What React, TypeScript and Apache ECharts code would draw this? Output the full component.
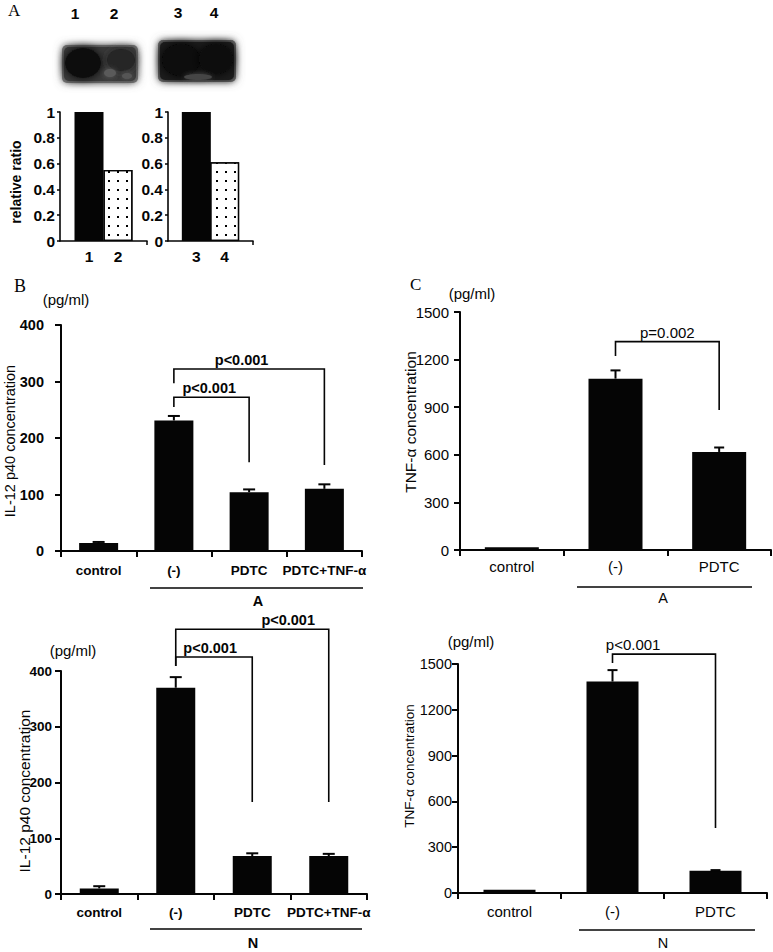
import React, { useEffect, useRef } from 'react';
import * as echarts from 'echarts';

// ---------- data ----------
const laneLabels = ['1', '2', '3', '4'];
const ratioCats1 = ['1', '2'];
const ratioVals1 = [1, 0.55];
const ratioCats2 = ['3', '4'];
const ratioVals2 = [1, 0.61];

const catsB = ['control', '(-)', 'PDTC', 'PDTC+TNF-α'];
const il12A = [14, 231, 104, 110];
const il12AErr = [2, 8, 5, 8];
const il12N = [10, 370, 68, 68];
const il12NErr = [4, 19, 5, 4];

const catsC = ['control', '(-)', 'PDTC'];
const tnfA = [18, 1080, 618];
const tnfAErr = [0, 52, 28];
const tnfN = [22, 1385, 145];
const tnfNErr = [0, 75, 5];

// brackets: [fromCat, toCat, lineValue, leftEndValue, rightEndValue, labelPosInCats]
const bracketsBA = [[1, 2, 272, 255, 157, 1.47], [1, 3, 322, 297, 152, 1.9]];
const bracketLabelsBA = ['p<0.001', 'p<0.001'];
const bracketsBN = [[1, 2, 425, 409, 165, 1.45], [1, 3, 475, 409, 165, 2.47]];
const bracketLabelsBN = ['p<0.001', 'p<0.001'];
const bracketsCA = [[1, 2, 1313, 1223, 882, 1.5]];
const bracketLabelsCA = ['p=0.002'];
const bracketsCN = [[1, 2, 1565, 1507, 426, 1.2]];
const bracketLabelsCN = ['p<0.001'];

const SANS = '"Liberation Sans", Arial, Helvetica, sans-serif';
const SERIF = '"Liberation Serif", "Times New Roman", serif';
const INK = '#050505';

function errSeries(idx: number, vals: number[], errs: number[], cap: number) {
  return {
    type: 'custom',
    xAxisIndex: idx,
    yAxisIndex: idx,
    silent: true,
    z: 3,
    encode: { x: 0, y: 1 },
    data: vals.map((v, i) => [i, v, errs[i]]),
    renderItem: (params: any, api: any) => {
      const i = api.value(0);
      const v = api.value(1);
      const e = api.value(2);
      if (!e) return { type: 'group', children: [] };
      const p0 = api.coord([i, v]);
      const p1 = api.coord([i, v + e]);
      return {
        type: 'group',
        children: [
          { type: 'line', shape: { x1: p0[0], y1: p0[1], x2: p1[0], y2: p1[1] }, style: { stroke: INK, lineWidth: 2 } },
          { type: 'line', shape: { x1: p1[0] - cap / 2, y1: p1[1], x2: p1[0] + cap / 2, y2: p1[1] }, style: { stroke: INK, lineWidth: 2 } },
        ],
      };
    },
  };
}

function bracketSeries(idx: number, rows: number[][], labels: string[], bold: boolean, size: number) {
  return {
    type: 'custom',
    xAxisIndex: idx,
    yAxisIndex: idx,
    silent: true,
    clip: false,
    z: 4,
    encode: { x: 0, y: 2 },
    data: rows,
    renderItem: (params: any, api: any) => {
      const a = api.value(0);
      const b = api.value(1);
      const yl = api.value(2);
      const y1 = api.value(3);
      const y2 = api.value(4);
      const lx = api.value(5);
      const pA = api.coord([a, yl]);
      const pB = api.coord([b, yl]);
      const pA1 = api.coord([a, y1]);
      const pB1 = api.coord([b, y2]);
      const bw = api.size([1, 0])[0];
      const fl = Math.floor(lx);
      const tx = api.coord([fl, yl])[0] + (lx - fl) * bw;
      return {
        type: 'group',
        children: [
          {
            type: 'polyline',
            shape: { points: [[pA1[0], pA1[1]], [pA[0], pA[1]], [pB[0], pB[1]], [pB1[0], pB1[1]]] },
            style: { stroke: INK, lineWidth: 1.6, fill: null },
          },
          {
            type: 'text',
            x: tx,
            y: pA[1] - 2,
            style: {
              text: labels[params.dataIndex],
              fill: INK,
              fontFamily: SANS,
              fontSize: size,
              fontWeight: bold ? 'bold' : 'normal',
              align: 'center',
              verticalAlign: 'bottom',
            },
          },
        ],
      };
    },
  };
}

function txt(x: number, y: number, text: string, size: number, opts: any = {}) {
  return {
    type: 'text',
    x,
    y,
    rotation: opts.rotation || 0,
    silent: true,
    style: {
      text,
      fill: INK,
      fontFamily: opts.family || SANS,
      fontSize: size,
      fontWeight: opts.bold ? 'bold' : 'normal',
      align: opts.align || 'center',
      verticalAlign: 'middle',
    },
  };
}

function hline(x1: number, x2: number, y: number) {
  return { type: 'line', silent: true, shape: { x1, y1: y, x2, y2: y }, style: { stroke: INK, lineWidth: 1.5 } };
}

const axisLineStyle = (w: number) => ({ show: true, lineStyle: { color: INK, width: w } });

function ratioX(idx: number, cats: string[]) {
  return {
    type: 'value',
    gridIndex: idx,
    min: 0,
    max: 3,
    interval: 1,
    axisLine: axisLineStyle(1.6),
    axisTick: { show: true, customValues: [3], length: 4, lineStyle: { color: INK, width: 1.5 } },
    axisLabel: {
      customValues: [1, 2],
      formatter: (v: number) => cats[v - 1] || '',
      color: INK,
      fontFamily: SANS,
      fontWeight: 'bold',
      fontSize: 15.5,
      margin: 7,
    },
    splitLine: { show: false },
  };
}

function ratioY(idx: number) {
  return {
    type: 'value',
    gridIndex: idx,
    min: 0,
    max: 1,
    interval: 0.2,
    axisLine: axisLineStyle(1.6),
    axisTick: { show: true, length: 3, lineStyle: { color: INK, width: 1.5 } },
    axisLabel: {
      formatter: (v: number) => (v === 0 ? '0' : v === 1 ? '1' : v.toFixed(1)),
      color: INK,
      fontFamily: SANS,
      fontWeight: 'bold',
      fontSize: 15.5,
      margin: 5,
    },
    splitLine: { show: false },
  };
}

const dotted = {
  color: '#fff',
  borderColor: INK,
  borderWidth: 1.3,
  decal: {
    symbol: 'rect',
    symbolSize: 1,
    color: '#000',
    backgroundColor: '#fff',
    dashArrayX: [2, 6.4],
    dashArrayY: [2, 6.4],
  },
};

function ratioBars(idx: number, vals: number[]) {
  return {
    type: 'bar',
    xAxisIndex: idx,
    yAxisIndex: idx,
    barWidth: 29,
    silent: true,
    data: vals.map((v, i) => ({
      value: [i + 1, v],
      itemStyle: i === 0 ? { color: INK } : dotted,
    })),
  };
}

function catX(idx: number, cats: string[], bold: boolean, size: number, margin: number) {
  return {
    type: 'category',
    gridIndex: idx,
    data: cats,
    axisLine: axisLineStyle(2),
    axisTick: { show: true, length: 6, lineStyle: { color: INK, width: 2 } },
    axisLabel: {
      color: INK,
      fontFamily: SANS,
      fontWeight: bold ? 'bold' : 'normal',
      fontSize: size,
      margin,
      interval: 0,
    },
  };
}

function valY(idx: number, max: number, interval: number, bold: boolean, size: number, margin: number) {
  return {
    type: 'value',
    gridIndex: idx,
    min: 0,
    max,
    interval,
    axisLine: axisLineStyle(2),
    axisTick: { show: true, length: 6, lineStyle: { color: INK, width: 2 } },
    axisLabel: {
      formatter: (v: number) => String(v),
      color: INK,
      fontFamily: SANS,
      fontWeight: bold ? 'bold' : 'normal',
      fontSize: size,
      margin,
    },
    splitLine: { show: false },
  };
}

function bars(idx: number, vals: number[], width: number) {
  return {
    type: 'bar',
    xAxisIndex: idx,
    yAxisIndex: idx,
    barWidth: width,
    silent: true,
    itemStyle: { color: INK },
    data: vals,
  };
}

const blots = {
  type: 'group',
  silent: true,
  children: [
    // left blot (lanes 1, 2)
    { type: 'rect', shape: { x: 62, y: 45, width: 76, height: 38, r: 5 }, style: { fill: '#777', shadowBlur: 8, shadowColor: 'rgba(110,110,110,0.9)' } },
    { type: 'rect', shape: { x: 64, y: 47, width: 72, height: 34, r: 5 }, style: { fill: '#3a3a3a', shadowBlur: 6, shadowColor: '#3a3a3a' } },
    { type: 'ellipse', shape: { cx: 83, cy: 63, rx: 18, ry: 15 }, style: { fill: '#111', shadowBlur: 10, shadowColor: '#111' } },
    { type: 'ellipse', shape: { cx: 121, cy: 60, rx: 14, ry: 11 }, style: { fill: '#252525', shadowBlur: 8, shadowColor: '#252525' } },
    { type: 'ellipse', shape: { cx: 110, cy: 73, rx: 6, ry: 4 }, style: { fill: '#5a5a5a', shadowBlur: 5, shadowColor: '#5a5a5a' } },
    { type: 'ellipse', shape: { cx: 127, cy: 76, rx: 5, ry: 3 }, style: { fill: '#555', shadowBlur: 4, shadowColor: '#555' } },
    // right blot (lanes 3, 4)
    { type: 'rect', shape: { x: 158, y: 40, width: 78, height: 42, r: 5 }, style: { fill: '#666', shadowBlur: 8, shadowColor: 'rgba(100,100,100,0.9)' } },
    { type: 'rect', shape: { x: 160, y: 42, width: 74, height: 38, r: 5 }, style: { fill: '#1c1c1c', shadowBlur: 6, shadowColor: '#1c1c1c' } },
    { type: 'ellipse', shape: { cx: 181, cy: 60, rx: 19, ry: 16 }, style: { fill: '#0a0a0a', shadowBlur: 10, shadowColor: '#0a0a0a' } },
    { type: 'ellipse', shape: { cx: 216, cy: 59, rx: 17, ry: 15 }, style: { fill: '#0d0d0d', shadowBlur: 10, shadowColor: '#0d0d0d' } },
    { type: 'ellipse', shape: { cx: 198, cy: 77, rx: 14, ry: 3 }, style: { fill: '#444', shadowBlur: 5, shadowColor: '#444' } },
  ],
};

const graphics: any[] = [
  blots,
  // panel letters
  txt(8, 10, 'A', 17, { family: SERIF, align: 'left' }),
  txt(14, 286, 'B', 18, { family: SERIF, align: 'left' }),
  txt(410, 284, 'C', 17, { family: SERIF, align: 'left' }),
  // lane numbers above blots
  txt(75, 13, laneLabels[0], 15.5, { bold: true }),
  txt(114, 13, laneLabels[1], 15.5, { bold: true }),
  txt(178, 12, laneLabels[2], 15.5, { bold: true }),
  txt(214, 12, laneLabels[3], 15.5, { bold: true }),
  // y-axis names
  txt(16, 182, 'relative ratio', 14, { bold: true, rotation: Math.PI / 2 }),
  txt(10, 441, 'IL-12 p40 concentration', 14.5, { rotation: Math.PI / 2 }),
  txt(24, 791, 'IL-12 p40 concentration', 15.5, { rotation: Math.PI / 2 }),
  txt(410, 422, 'TNF-α concentration', 15.5, { rotation: Math.PI / 2 }),
  txt(409, 766, 'TNF-α concentration', 13.5, { rotation: Math.PI / 2 }),
  // units
  txt(66, 299, '(pg/ml)', 15),
  txt(73, 650, '(pg/ml)', 15),
  txt(472, 293, '(pg/ml)', 15),
  txt(471, 641, '(pg/ml)', 15),
  // group underlines
  hline(150, 363, 588),
  txt(258, 601, 'A', 14.5, { bold: true }),
  hline(150, 362, 929),
  txt(253, 943, 'N', 14.5, { bold: true }),
  hline(577, 752, 587),
  txt(663, 598, 'A', 14.5),
  hline(579, 755, 930),
  txt(663, 943, 'N', 14.5),
];

const option: any = {
  animation: false,
  backgroundColor: '#fff',
  grid: [
    { left: 60, top: 112, width: 87, height: 129 },
    { left: 168, top: 112, width: 85, height: 129 },
    { left: 61, top: 325, width: 301, height: 226 },
    { left: 61, top: 671, width: 306, height: 223 },
    { left: 460, top: 312, width: 311, height: 238 },
    { left: 458, top: 664, width: 309, height: 229 },
  ],
  xAxis: [
    ratioX(0, ratioCats1),
    ratioX(1, ratioCats2),
    catX(2, catsB, true, 13.5, 12),
    catX(3, catsB, true, 13.5, 11),
    catX(4, catsC, false, 15, 9),
    catX(5, catsC, false, 15, 11),
  ],
  yAxis: [
    ratioY(0),
    ratioY(1),
    valY(2, 400, 100, true, 14.5, 17),
    valY(3, 400, 100, true, 13.5, 9),
    valY(4, 1500, 300, false, 15, 11),
    valY(5, 1500, 300, false, 14.5, 6),
  ],
  series: [
    ratioBars(0, ratioVals1),
    ratioBars(1, ratioVals2),
    bars(2, il12A, 39),
    errSeries(2, il12A, il12AErr, 12),
    bracketSeries(2, bracketsBA, bracketLabelsBA, true, 14.5),
    bars(3, il12N, 39),
    errSeries(3, il12N, il12NErr, 12),
    bracketSeries(3, bracketsBN, bracketLabelsBN, true, 14.5),
    bars(4, tnfA, 54),
    errSeries(4, tnfA, tnfAErr, 10),
    bracketSeries(4, bracketsCA, bracketLabelsCA, false, 15),
    bars(5, tnfN, 52),
    errSeries(5, tnfN, tnfNErr, 10),
    bracketSeries(5, bracketsCN, bracketLabelsCN, false, 15),
  ],
  graphic: graphics,
};

export default function App() {
  const ref = useRef<HTMLDivElement>(null);
  useEffect(() => {
    document.body.style.margin = '0';
    const chart = echarts.init(ref.current as HTMLDivElement, undefined, { renderer: 'svg', width: 773, height: 952 });
    chart.setOption(option);
    return () => chart.dispose();
  }, []);
  return <div ref={ref} style={{ width: 773, height: 952, background: '#fff' }} />;
}
